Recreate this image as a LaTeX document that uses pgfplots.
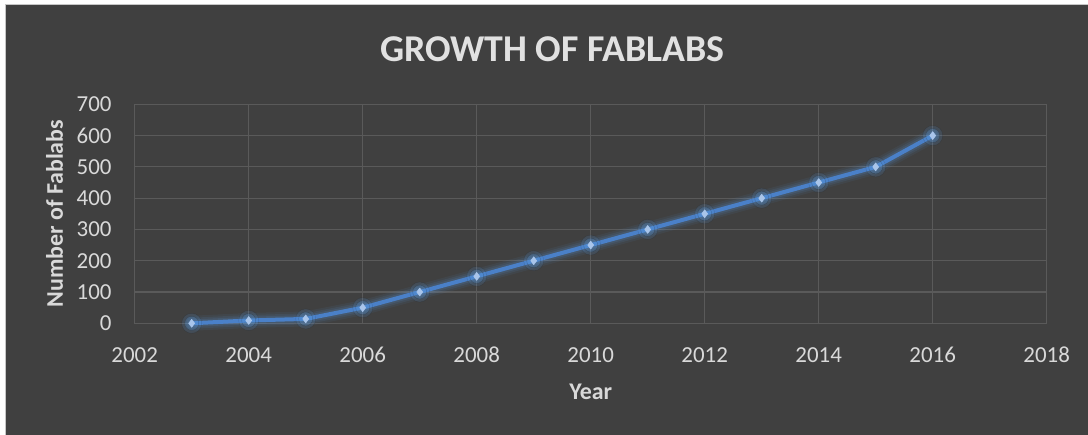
\documentclass[border=0pt]{standalone}
\usepackage{pgfplots}
\usepackage{pgfplotstable}
\pgfplotsset{compat=1.18}
\usepackage{fontspec}
\setmainfont{Carlito}
\definecolor{bgc}{HTML}{404040}
\definecolor{gridc}{HTML}{5A5A5A}
\definecolor{txtc}{HTML}{D9D9D9}
\definecolor{linec}{HTML}{4A80C8}
\definecolor{glowc}{HTML}{5B9BE0}
\definecolor{markc}{HTML}{A9C5EA}
\pgfplotstableread{
year labs
2003 0
2004 9
2005 14
2006 50
2007 100
2008 150
2009 200
2010 250
2011 300
2012 350
2013 400
2014 450
2015 500
2016 600
}\fablabs
\begin{document}
\begin{tikzpicture}
\useasboundingbox (-134.7bp,-111.7bp) rectangle (953.3bp,323.3bp);
\fill[white] (-134.7bp,-111.7bp) rectangle (953.3bp,323.3bp);
\fill[bgc] (-128.7bp,-111.7bp) rectangle (953.3bp,318.3bp);
\draw[gray!45,line width=1bp] (-128.7bp,-111.7bp) -- (-128.7bp,318.3bp) -- (953.3bp,318.3bp);
\begin{axis}[
  at={(0,0)}, anchor=south west,
  scale only axis,
  width=912bp, height=219bp,
  xmin=2002, xmax=2018, ymin=0, ymax=700,
  xtick={2002,2004,...,2018},
  ytick={0,100,...,700},
  grid=major,
  grid style={gridc, line width=1.2bp},
  axis line style={gridc, line width=1.2bp},
  major tick length=0pt,
  tick style={draw=none},
  x tick label style={/pgf/number format/1000 sep={}},
  /pgf/number format/assume math mode=true,
  ticklabel style={font=\fontsize{23}{25}\selectfont, text=txtc, inner sep=0pt},
  xticklabel style={anchor=base, yshift=-39bp},
  yticklabel style={anchor=east, xshift=-23bp},
  clip=false,
]
\addplot[glowc, opacity=0.07, line width=15bp, line join=round, line cap=round] table[x=year,y=labs] {\fablabs};
\addplot[glowc, opacity=0.10, line width=11bp, line join=round, line cap=round] table[x=year,y=labs] {\fablabs};
\addplot[glowc, opacity=0.14, line width=7.5bp, line join=round, line cap=round] table[x=year,y=labs] {\fablabs};
\addplot[only marks, mark=*, mark size=10bp, mark options={fill=glowc, draw=none, opacity=0.15}] table[x=year,y=labs] {\fablabs};
\addplot[only marks, mark=*, mark size=7bp, mark options={fill=glowc, draw=none, opacity=0.22}] table[x=year,y=labs] {\fablabs};
\addplot[linec, line width=4bp, line join=round, mark=diamond*, mark size=4bp,
  mark options={fill=markc, draw=markc, line width=0.5bp}] table[x=year,y=labs] {\fablabs};
\end{axis}
\node[anchor=base, inner sep=0pt, text=txtc!80!white, font=\fontsize{38}{40}\selectfont\bfseries] at (417.8bp,261.6bp) {GROWTH OF FABLABS};
\node[anchor=base, inner sep=0pt, text=txtc, font=\fontsize{24}{26}\selectfont\bfseries] at (456bp,-75.7bp) {Year};
\node[anchor=base, rotate=90, inner sep=0pt, text=txtc, font=\fontsize{24}{26}\selectfont\bfseries] at (-71.7bp,109.5bp) {Number of Fablabs};
\end{tikzpicture}
\end{document}
